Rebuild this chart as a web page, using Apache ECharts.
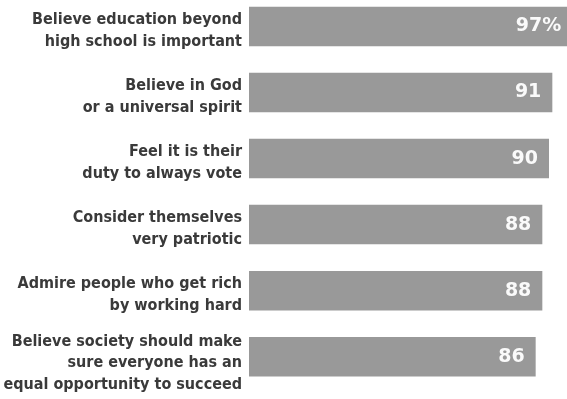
<!DOCTYPE html>
<html>
<head>
<meta charset="utf-8">
<script src="https://cdn.jsdelivr.net/npm/echarts@6/dist/echarts.min.js"></script>
<style>
html,body{margin:0;padding:0;background:#fff;}
#chart{width:567px;height:399px;}
</style>
</head>
<body>
<div id="chart"></div>
<script>
const categories = [
  "Believe education beyond\nhigh school is important",
  "Believe in God\nor a universal spirit",
  "Feel it is their\nduty to always vote",
  "Consider themselves\nvery patriotic",
  "Admire people who get rich\nby working hard",
  "Believe society should make\nsure everyone has an\nequal opportunity to succeed"
];
const values = [97, 91, 90, 88, 88, 86];
const valueLabels = ["97%", "91", "90", "88", "88", "86"];

const chart = echarts.init(document.getElementById('chart'), null, {renderer: 'canvas'});
chart.setOption({
  animation: false,
  backgroundColor: '#ffffff',
  grid: {left: 249, right: 0, top: 26.5, bottom: 42.3, containLabel: false},
  xAxis: {
    type: 'value', min: 0, max: 95.4, show: false
  },
  yAxis: {
    type: 'category',
    data: categories,
    inverse: true,
    boundaryGap: false,
    axisLine: {show: false},
    axisTick: {show: false},
    splitLine: {show: false},
    axisLabel: {
      interval: 0,
      margin: 7,
      align: 'right',
      color: '#3a3a3a',
      fontFamily: 'DejaVu Sans Condensed',
      fontWeight: 'bold',
      fontSize: 16,
      lineHeight: 22,
      formatter: (v) => {
        const lines = v.split('\n');
        return lines.length > 2 ? '{c|' + lines.join('}\n{c|') + '}' : '{b|' + lines.join('}\n{b|') + '}';
      },
      rich: {
        b: {fontFamily: 'DejaVu Sans Condensed', fontWeight: 'bold', fontSize: 16, color: '#3a3a3a', lineHeight: 22, padding: [8, 0, 0, 0]},
        c: {fontFamily: 'DejaVu Sans Condensed', fontWeight: 'bold', fontSize: 16, color: '#3a3a3a', lineHeight: 21.5, padding: [13, 0, 0, 0]}
      }
    }
  },
  series: [{
    type: 'bar',
    data: values,
    barWidth: 39.5,
    clip: false,
    itemStyle: {color: '#999999'},
    label: {
      show: true,
      position: 'insideRight',
      distance: 11,
      color: '#fafafa',
      fontFamily: 'DejaVu Sans',
      fontWeight: 'bold',
      fontSize: 19,
      formatter: p => valueLabels[p.dataIndex]
    }
  }]
});
</script>
</body>
</html>
